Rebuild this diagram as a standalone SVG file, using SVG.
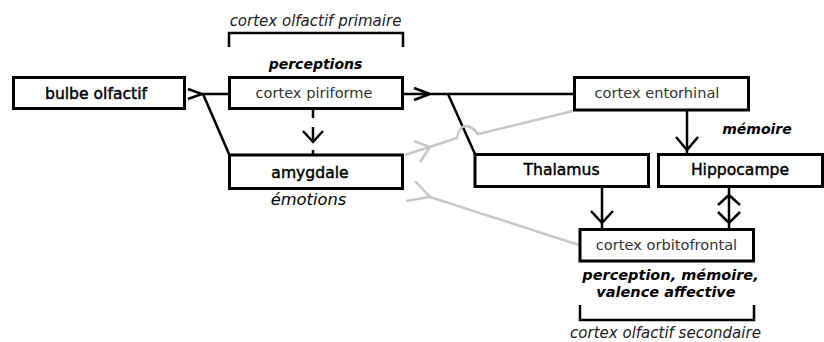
<svg xmlns="http://www.w3.org/2000/svg" width="824" height="342" viewBox="0 0 824 342">
<style>
  .box{fill:#fff;stroke:#000;stroke-width:3}
  .lbl{font-family:"DejaVu Sans",Verdana,sans-serif;font-size:15.6px;font-weight:normal;fill:#000;stroke:#000;stroke-width:0.45;text-anchor:middle}
  .ctx{font-family:"DejaVu Sans",Verdana,sans-serif;font-size:14.6px;font-weight:normal;fill:#333;text-anchor:middle}
  .note{font-family:"DejaVu Sans",Verdana,sans-serif;font-size:14px;font-weight:bold;font-style:italic;fill:#000;text-anchor:middle}
  .note2{font-family:"DejaVu Sans",Verdana,sans-serif;font-size:14.5px;font-weight:bold;font-style:italic;fill:#000;text-anchor:middle}
  .emo{font-family:"DejaVu Sans",Verdana,sans-serif;font-size:16.3px;font-weight:normal;font-style:italic;fill:#000;text-anchor:middle}
  .cap{font-family:"DejaVu Sans",Verdana,sans-serif;font-size:15px;font-weight:300;font-style:italic;fill:#222;text-anchor:middle}
  .k{fill:none;stroke:#000;stroke-width:2.5}
  .g{fill:none;stroke:#c8c8c8;stroke-width:2.5}
</style>
<rect width="824" height="342" fill="#fff"/>

<g id="connectors">
  <!-- bulbe -> piriforme / amygdale -->
  <path class="k" d="M202,94 L229,94 M188,89 L202,94 L188,99 M203,94 L229,154"/>
  <!-- piriforme -> entorhinal / thalamus -->
  <path class="k" d="M403,94 L574,94 M414,88 L430,94 L414,100 M448,94 L475,154"/>
  <!-- piriforme -> amygdale (dashed) -->
  <path class="k" d="M313,110 L313,118 M313,127 L313,142 M313,150 L313,155 M303,131 L313,142 L323,131"/>
  <!-- entorhinal -> hippocampe -->
  <path class="k" d="M687,111 L687,154 M676,137 L687,150 L698,137"/>
  <!-- thalamus -> orbitofrontal -->
  <path class="k" d="M602,187 L602,229 M591,211 L602,223 L613,211"/>
  <!-- hippocampe <-> orbitofrontal -->
  <path class="k" d="M729,187 L729,229 M718,205 L729,195 L740,205 M718,212 L729,223 L740,212"/>
  <!-- amygdale -> entorhinal (grey, hop) -->
  <path class="g" d="M405,155 L457,138 C459,128 462,126 466,126 C471,126 474,129 478,134 L573,111 M414,141 L430,147 L420,162"/>
  <!-- amygdale -> orbitofrontal (grey) -->
  <path class="g" d="M430,197 L579,245 M406,201 L430,197 L415,181"/>
</g>

<g id="bracket-primary">
  <path class="k" d="M229,47 L229,33 L403,33 L403,47" stroke-width="3"/>
  <text class="cap" x="315.5" y="26">cortex olfactif primaire</text>
</g>

<g id="bracket-secondary">
  <path class="k" d="M580,305 L580,320 L754,320 L754,305" stroke-width="3"/>
  <text class="cap" x="665.5" y="338">cortex olfactif secondaire</text>
</g>

<g id="bulbe">
  <rect class="box" x="13.5" y="77.5" width="171" height="31"/>
  <text class="lbl" x="96" y="98.5">bulbe olfactif</text>
</g>

<g id="piriforme">
  <rect class="box" x="229.5" y="77.5" width="173" height="31"/>
  <text class="ctx" x="314" y="98">cortex piriforme</text>
  <text class="note" x="315.5" y="69">perceptions</text>
</g>

<g id="amygdale">
  <rect class="box" x="229.5" y="155" width="173" height="33.5"/>
  <text class="lbl" x="310" y="177.5">amygdale</text>
  <text class="emo" x="308.5" y="205">émotions</text>
</g>

<g id="entorhinal">
  <rect class="box" x="574.5" y="77.5" width="174" height="32.5"/>
  <text class="ctx" x="657" y="98">cortex entorhinal</text>
  <text class="note" x="757" y="134">mémoire</text>
</g>

<g id="thalamus">
  <rect class="box" x="475" y="154.5" width="173.5" height="32"/>
  <text class="lbl" x="561.5" y="175">Thalamus</text>
</g>

<g id="hippocampe">
  <rect class="box" x="658.5" y="154.5" width="164" height="32"/>
  <text class="lbl" x="740" y="175">Hippocampe</text>
</g>

<g id="orbitofrontal">
  <rect class="box" x="580" y="229.5" width="173.5" height="31.5"/>
  <text class="ctx" x="666.5" y="250">cortex orbitofrontal</text>
  <text class="note2" x="670.5" y="280">perception, mémoire,</text>
  <text class="note2" x="666" y="297">valence affective</text>
</g>
</svg>
